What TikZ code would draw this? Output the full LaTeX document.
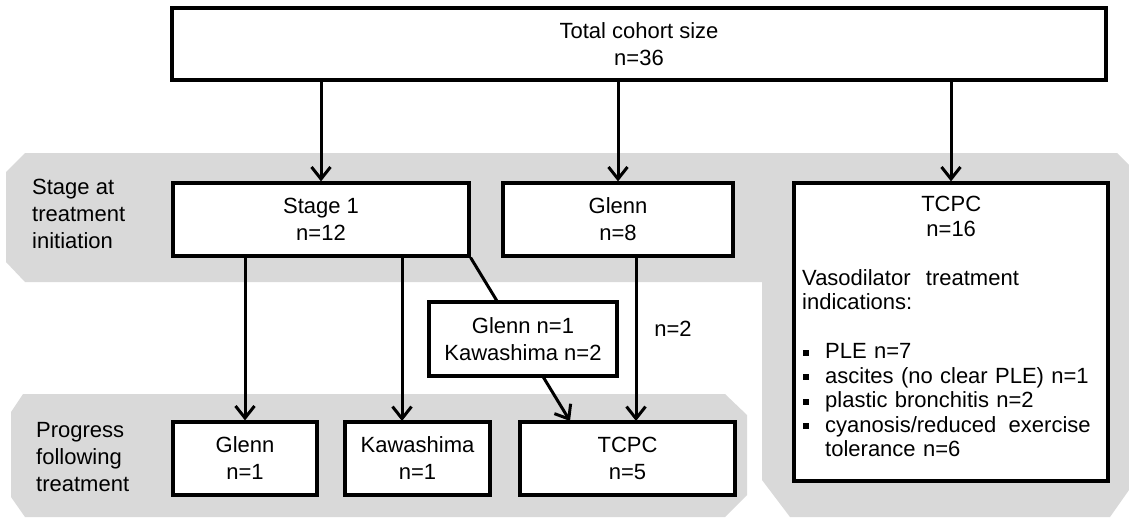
\documentclass[tikz,border=0pt]{standalone}
\usepackage{fontspec}
\setmainfont{Liberation Sans}
\usetikzlibrary{positioning, arrows.meta, calc}

\definecolor{bandgrey}{RGB}{217,217,217}
\newcommand{\sqitem}{\noindent\hangindent=23pt\hangafter=1\makebox[23pt][l]{\hspace{1pt}\rule[3pt]{6pt}{6pt}}}

\tikzset{
  box/.style={draw, line width=3.2pt, fill=white, align=center, inner sep=0pt,
    font=\fontsize{22}{27}\selectfont},
  lbl/.style={align=left, inner sep=0pt, anchor=west, font=\fontsize{22}{27}\selectfont},
}

\begin{document}
\begin{tikzpicture}[x=1pt, y=-1pt, >={Straight Barb[length=12pt,width=19pt]}]
        \useasboundingbox (0,0) rectangle (1129,517);

        % grey bands
        \fill[bandgrey] (25,153) -- (1117,153) -- (1129,165) -- (1129,490) -- (1110,517)
          -- (790,517) -- (762,480) -- (762,282) -- (25,282) -- (6,262) -- (6,172) -- cycle;
        \fill[bandgrey] (23,394) -- (725,394) -- (747,415) -- (747,495) -- (725,517)
          -- (25,517) -- (11,497) -- (11,412) -- cycle;

        \node[lbl] (stagelbl) at (32,214) {Stage at\\treatment\\initiation};
        \node[lbl] (proglbl) at (36,457) {Progress\\following\\treatment};

        \node[box, minimum width=934, minimum height=72] (total) at (639,44) {Total cohort size\\n=36};
        \node[box, minimum width=296, minimum height=73] (s1) at (321,219.5) {Stage 1\\n=12};
        \node[box, minimum width=230, minimum height=73] (g8) at (618,219.5) {Glenn\\n=8};
        \node[box, minimum width=314, minimum height=298] (t16) at (951,332) {};
        \node[box, minimum width=144, minimum height=73] (g1) at (245,458.5) {Glenn\\n=1};
        \node[box, minimum width=145, minimum height=73] (k1) at (417.5,458.5) {Kawashima\\n=1};
        \node[box, minimum width=215, minimum height=73] (t5) at (627.5,458.5) {TCPC\\n=5};

        \node[anchor=north west, inner sep=0pt, text width=298pt,
          font=\fontsize{22}{24.5}\selectfont] (t16txt) at (802,196) {%
          {\centering TCPC\\n=16\par}
          \vspace{24.5pt}
          \raggedright
          Vasodilator\hspace{8pt} treatment\\indications:\par
          \vspace{24.5pt}
          \sqitem PLE n=7\par
          \sqitem ascites (no clear PLE) n=1\par
          \sqitem plastic bronchitis n=2\par
          \sqitem cyanosis/reduced\hspace{5pt} exercise\hfil\break tolerance n=6\par};

        \coordinate (k1in) at (402,421);
        \coordinate (t5in) at (570,421);
        \coordinate (t5in2) at (636,421);

        \path[->, line width=3pt]
        (total.south -| s1.north) edge (s1)
        (total.south -| g8.north) edge (g8)
        (total.south -| t16.north) edge (t16)
        (s1.south -| g1.north) edge (g1)
        (s1.south -| k1in) edge (k1in)
        (g8.south -| t5in2) edge (t5in2)
        (s1.south east) edge (t5in)
        ;

        \node[box, minimum width=188, minimum height=74] (mid) at (523,339) {Glenn n=1\\Kawashima n=2};
        \node[inner sep=0pt, font=\fontsize{22}{27}\selectfont] (n2) at (673,329) {n=2};
\end{tikzpicture}
\end{document}
